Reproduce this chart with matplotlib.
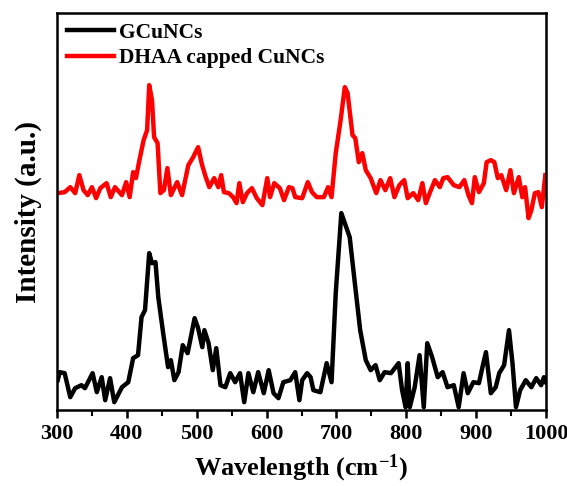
import numpy as np
import matplotlib
matplotlib.use("Agg")
import matplotlib.pyplot as plt

# GCuNCs (black) - wavenumber and intensity (arb. units)
x_g = [301, 304, 311, 319, 326, 335, 340, 351, 357, 364, 369, 376, 382, 393, 402, 409, 416,
       421, 426, 432, 436, 441, 445, 452, 459, 463, 468, 474, 480, 487, 497, 502, 508, 511,
       517, 523, 528, 534, 541, 548, 555, 562, 568, 574, 581, 588, 596, 603, 610, 617, 624,
       634, 641, 647, 651, 658, 663, 667, 677, 686, 693, 699, 707, 713, 719, 727, 734, 742,
       749, 756, 762, 769, 778, 789, 794, 799, 802, 805, 812, 819, 825, 830, 837, 845, 852,
       859, 868, 875, 882, 888, 896, 904, 909, 914, 921, 928, 933, 940, 947, 952, 957, 963,
       971, 979, 986, 993, 997, 1000]
y_g = [30, 38, 37, 13, 22, 25, 22, 37, 18, 33, 10, 32, 8, 23, 28, 52, 55,
       93, 100, 157, 147, 148, 113, 77, 43, 50, 30, 38, 65, 57, 92, 82, 63, 80,
       67, 40, 62, 25, 23, 37, 28, 37, 8, 37, 18, 38, 17, 40, 17, 12, 28,
       30, 38, 10, 30, 37, 33, 20, 18, 47, 28, 117, 197, 185, 173, 123, 80, 50,
       40, 45, 30, 38, 37, 47, 20, 3, 47, 3, 23, 55, 3, 67, 53, 33, 38,
       23, 25, 3, 37, 17, 28, 27, 43, 58, 17, 23, 37, 45, 80, 47, 3, 20,
       30, 23, 32, 25, 33, 28]

# DHAA capped CuNCs (red)
x_d = [301, 311, 319, 326, 332, 338, 344, 350, 356, 362, 371, 377, 383, 393, 399, 404, 409,
       413, 418, 424, 429, 432, 436, 439, 444, 448, 453, 458, 463, 472, 479, 488, 495, 502,
       507, 512, 518, 525, 531, 535, 539, 546, 552, 557, 561, 566, 572, 579, 586, 594, 601,
       605, 611, 619, 625, 632, 637, 641, 651, 659, 665, 672, 682, 688, 693, 699, 706, 712,
       716, 723, 727, 732, 737, 742, 749, 757, 763, 770, 777, 783, 790, 797, 802, 810, 817,
       823, 828, 834, 841, 848, 853, 859, 868, 876, 883, 889, 894, 898, 904, 911, 915, 921,
       926, 931, 936, 943, 949, 954, 961, 966, 970, 975, 979, 984, 989, 994, 999]
y_d = [217, 218, 223, 217, 235, 220, 215, 223, 212, 222, 227, 213, 223, 215, 228, 213, 238,
       232, 250, 270, 280, 325, 310, 273, 267, 217, 220, 242, 215, 228, 215, 245, 253, 263,
       247, 235, 223, 232, 223, 235, 218, 217, 213, 207, 227, 208, 217, 222, 212, 205, 232,
       213, 227, 222, 210, 223, 222, 213, 212, 228, 218, 213, 213, 223, 213, 257, 290, 323,
       317, 275, 272, 248, 257, 240, 232, 217, 230, 220, 232, 213, 225, 230, 212, 217, 210,
       227, 207, 218, 230, 223, 232, 233, 225, 223, 230, 215, 207, 233, 218, 227, 248, 250,
       248, 232, 235, 220, 240, 217, 233, 213, 223, 192, 200, 217, 218, 203, 235]

plt.rcParams['font.family'] = 'Liberation Serif'
plt.rcParams['font.weight'] = 'bold'
plt.rcParams['mathtext.fontset'] = 'custom'
plt.rcParams['mathtext.rm'] = 'Liberation Serif:bold'
plt.rcParams['mathtext.it'] = 'Liberation Serif:bold'
plt.rcParams['mathtext.bf'] = 'Liberation Serif:bold'

fig = plt.figure(figsize=(5.67, 4.86), dpi=100)
ax = fig.add_axes([0.1005, 0.156, 0.8625, 0.817])

ax.plot(x_g, y_g, color='black', lw=3.2, label='GCuNCs')
ax.plot(x_d, y_d, color='red', lw=3.2, label='DHAA capped CuNCs')

ax.set_xlim(300, 1000)
ax.set_ylim(0, 397)
ax.set_xticks(range(300, 1001, 100))
ax.set_xticks(range(350, 1000, 100), minor=True)
ax.set_yticks([])
for s in ax.spines.values():
    s.set_linewidth(1.8)
ax.tick_params(axis='x', which='major', direction='out', length=6, width=1.8, labelsize=16, pad=4)
ax.tick_params(axis='x', which='minor', direction='out', length=4, width=1.5)
for lab in ax.get_xticklabels():
    lab.set_fontweight('bold')

ax.set_xlabel('Wavelength (cm$^{-1}$)', fontsize=19, fontweight='bold', labelpad=6)
ax.set_ylabel('Intensity (a.u.)', fontsize=21, fontweight='bold', labelpad=11)

leg = ax.legend(loc='upper left', frameon=False, fontsize=15.5, handlelength=2.2,
                handletextpad=0.25, borderaxespad=0.15, borderpad=0.3, labelspacing=0.25)
for t in leg.get_texts():
    t.set_fontweight('bold')

fig.savefig('out.png', dpi=100)
